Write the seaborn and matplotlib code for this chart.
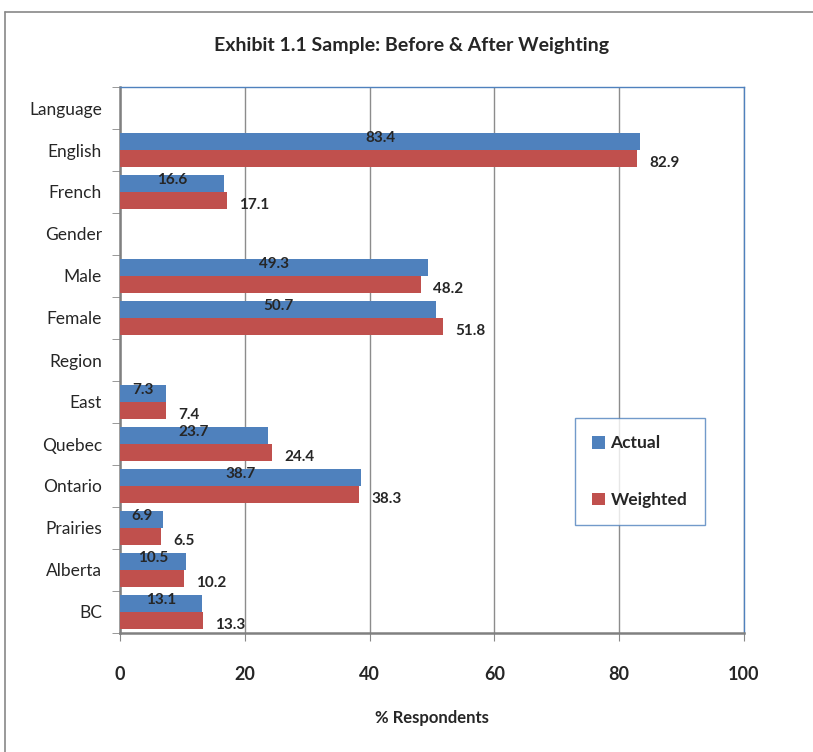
import pandas as pd
import seaborn as sns
import matplotlib
import matplotlib.pyplot as plt
from matplotlib.lines import Line2D

matplotlib.use('Agg')

# Kategorien (inkl. Überschriften ohne Werte)
order = ["Language", "English", "French", "Gender", "Male", "Female",
         "Region", "East", "Quebec", "Ontario", "Prairies", "Alberta", "BC"]
cats = ["English", "French", "Male", "Female", "East", "Quebec",
        "Ontario", "Prairies", "Alberta", "BC"]
actual = [83.4, 16.6, 49.3, 50.7, 7.3, 23.7, 38.7, 6.9, 10.5, 13.1]
weighted = [82.9, 17.1, 48.2, 51.8, 7.4, 24.4, 38.3, 6.5, 10.2, 13.3]
xticks = [0, 20, 40, 60, 80, 100]

df = pd.DataFrame({"Kategorie": cats * 2,
                   "Wert": actual + weighted,
                   "Serie": ["Actual"] * len(cats) + ["Weighted"] * len(cats)})

sns.set_style("white")
plt.rcParams['font.family'] = ['Lato', 'DejaVu Sans']

fig = plt.figure(figsize=(8.13, 7.52), dpi=100)
ax = fig.add_axes([120 / 813, 1 - 633 / 752, 624 / 813, 546 / 752])

sns.barplot(data=df, y="Kategorie", x="Wert", hue="Serie", order=order,
            hue_order=["Actual", "Weighted"], orient="h", saturation=1,
            palette=["#4F81BD", "#C0504D"], width=0.82, ax=ax,
            edgecolor="none", zorder=3)

ax.set_xlim(0, 100)
ax.set_xticks(xticks)
ax.set_xticklabels([str(t) for t in xticks], fontsize=13, fontweight="bold")
ax.tick_params(axis="x", length=6, color="#888888", pad=18, direction="out", bottom=True)
ax.tick_params(axis="y", which="major", length=0, labelsize=12.5, pad=13)
ax.set_yticks([i + 0.5 for i in range(-1, len(order))], minor=True)
ax.tick_params(axis="y", which="minor", length=6, color="#888888", left=True, direction="out")
ax.set_ylim(len(order) - 0.5, -0.5)
ax.grid(axis="x", color="#8c8c8c", linewidth=1, zorder=0)
ax.set_axisbelow(True)

for s in ["top", "right"]:
    ax.spines[s].set_color("#4F81BD")
    ax.spines[s].set_linewidth(1)
for s in ["left", "bottom"]:
    ax.spines[s].set_color("#808080")
    ax.spines[s].set_linewidth(1.8)

# Datenbeschriftungen
for bar in ax.containers[0]:
    ax.annotate(f"{bar.get_width():.1f}",
                (bar.get_width() / 2, bar.get_y() + bar.get_height() / 2),
                ha="center", va="center", fontsize=11, fontweight="bold",
                xytext=(0, 2.5), textcoords="offset points", zorder=5)
for bar in ax.containers[1]:
    ax.annotate(f"{bar.get_width():.1f}",
                (bar.get_width(), bar.get_y() + bar.get_height() / 2),
                ha="left", va="center", fontsize=11, fontweight="bold",
                xytext=(9, -3), textcoords="offset points", zorder=5)

ax.set_ylabel("")
ax.set_xlabel("% Respondents", fontsize=12, fontweight="bold", labelpad=19)
fig.text(412 / 813, 1 - 45 / 752, "Exhibit 1.1 Sample: Before & After Weighting",
         ha="center", va="center", fontsize=14, fontweight="bold")

leg = ax.legend(loc="upper left", bbox_to_anchor=(0.729, 0.394), frameon=True,
                prop={"weight": "bold", "size": 12.5}, labelspacing=2.35,
                handlelength=0.75, handleheight=0.75, handletextpad=0.3,
                borderpad=1.0, borderaxespad=0, fancybox=False)
leg.get_frame().set_edgecolor("#4F81BD")
leg.get_frame().set_linewidth(1)

# äußerer Rahmen
fig.add_artist(Line2D([5 / 813, 1], [1 - 12 / 752, 1 - 12 / 752], color="#888888", linewidth=1.2))
fig.add_artist(Line2D([5 / 813, 5 / 813], [0, 1 - 12 / 752], color="#888888", linewidth=1.2))

plt.savefig("out.png", dpi=100)
